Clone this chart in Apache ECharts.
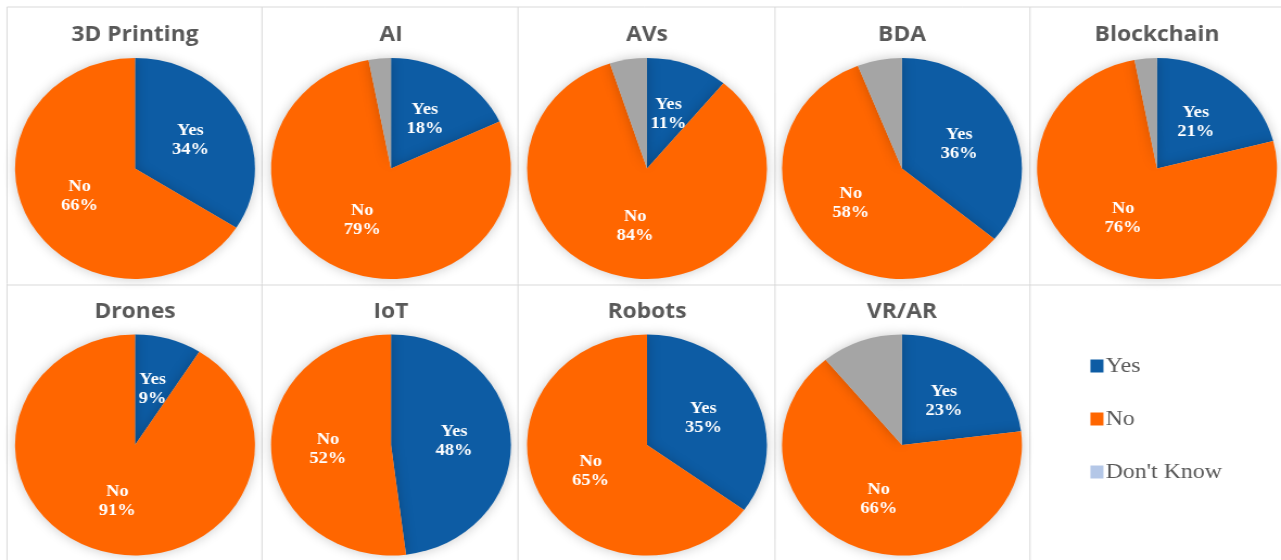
<!DOCTYPE html>
<html>
<head>
<meta charset="utf-8">
<script src="https://cdn.jsdelivr.net/npm/echarts@6/dist/echarts.min.js"></script>
<style>
html,body{margin:0;padding:0;background:#fff;overflow:hidden;}
#wrap{width:1281px;height:560px;overflow:hidden;}
#chart{width:1180px;height:560px;transform:scaleX(1.08559);transform-origin:0 0;}
</style>
</head>
<body>
<div id="wrap"><div id="chart"></div></div>
<script>
const categories = ["3D Printing","AI","AVs","BDA","Blockchain","Drones","IoT","Robots","VR/AR"];
const answers = ["Yes","No","Don't Know"];
const yesValues = [34,18,11,36,21,9,48,35,23];
const noValues = [66,79,84,58,76,91,52,65,66];
const dontKnowValues = [0,3,5,6,3,0,0,0,11];

const sliceColors = ["#0D5CA4","#FF6600","#A5A5A5"];
const legendSwatch = ["#0D5CA4","#FF6600","#B4C7E7"];

const S = 1281 / 1180;           // horizontal stretch applied by CSS
const px = x => x / S;           // page x -> chart x
const W = 1180, H = 560;
const colX = [7, 262, 518, 775, 1030].map(px);
const rowY = [7, 285, 560];
const centersX = [135, 391, 647, 902, 1157].map(px);
const centersY = [168.5, 445];
const titleY = [25, 302];
const radius = 110.5;

const chart = echarts.init(document.getElementById('chart'), null, {renderer:'canvas', width: 1180, height: 560});

const series = [];
const titles = [];
categories.forEach((cat, i) => {
  const r = Math.floor(i / 5), c = i % 5;
  const vals = [yesValues[i], noValues[i], dontKnowValues[i]];
  titles.push({
    text: cat, left: centersX[c], top: titleY[r], textAlign: 'center', padding: 0,
    textStyle: {fontFamily: 'Open Sans', fontWeight: 'bold', fontSize: 21, color: '#595959'}
  });
  series.push({
    type: 'pie', name: cat,
    center: [centersX[c], centersY[r]], radius: radius,
    startAngle: 90, clockwise: true,
    avoidLabelOverlap: false,
    itemStyle: {shadowBlur: 12, shadowColor: 'rgba(0,0,0,0.22)', borderWidth: 0},
    label: {
      show: true, position: 'inner',
      formatter: p => p.value > 0 && p.dataIndex < 2 ? p.name + '\n' + p.value + '%' : '',
      fontFamily: 'Liberation Serif', fontWeight: 'bold', fontSize: 17,
      color: '#fff', lineHeight: 19
    },
    labelLine: {show: false},
    emphasis: {disabled: true},
    data: answers.map((a, k) => ({name: a, value: vals[k], itemStyle: {color: sliceColors[k]}}))
  });
});

const graphics = [];
const lineStyle = {stroke: '#D9D9D9', lineWidth: 1};
graphics.push({type:'line', shape:{x1:colX[0], y1:rowY[0], x2:W, y2:rowY[0]}, style:lineStyle, silent:true});
graphics.push({type:'line', shape:{x1:colX[0], y1:rowY[1], x2:W, y2:rowY[1]}, style:lineStyle, silent:true});
colX.forEach(x => {
  graphics.push({type:'line', shape:{x1:x, y1:rowY[0], x2:x, y2:H}, style:lineStyle, silent:true});
});

chart.setOption({
  animation: false,
  title: titles,
  legend: {
    orient: 'vertical', left: px(1085), top: 350,
    itemWidth: 12, itemHeight: 13, itemGap: 31, icon: 'rect',
    textStyle: {fontFamily: 'Liberation Serif', fontSize: 22, color: '#595959', padding: [0,0,0,-3]},
    data: answers.map((a, k) => ({name: a, itemStyle: {color: legendSwatch[k]}}))
  },
  graphic: graphics,
  series: series
});
</script>
</body>
</html>
